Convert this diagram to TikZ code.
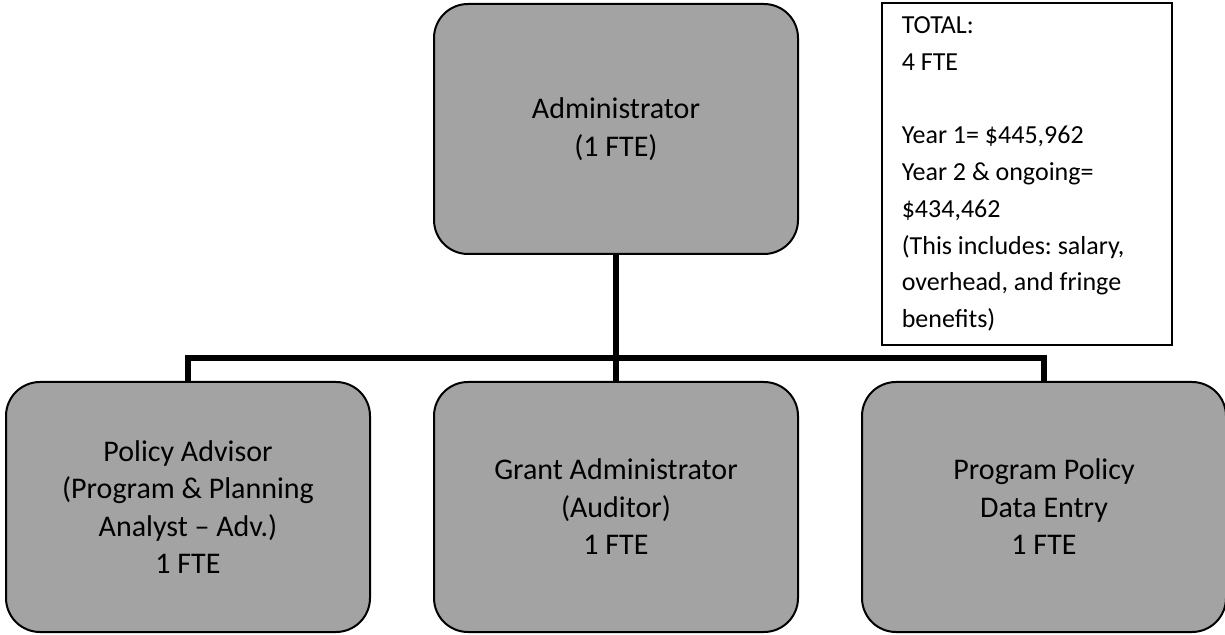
\documentclass[tikz,border=0pt]{standalone}
\usepackage{fontspec}
\setmainfont{Carlito}
\frenchspacing
\usetikzlibrary{positioning}
\tikzset{rolebox/.style={draw, line width=1pt, rounded corners=17pt,
  fill=black!36, minimum width=182pt, minimum height=125pt,
  align=center, inner sep=4pt, font=\fontsize{15}{18.75}\selectfont},
  notebox/.style={draw, line width=0.8pt, align=flush left, anchor=north west,
  text width=125pt, minimum width=145pt, minimum height=171pt,
  inner xsep=10pt, inner ysep=3pt, font=\fontsize{13}{18.4}\selectfont},
  linkline/.style={line width=3pt},
  org/.style={x=0.5pt, y=-0.5pt, node distance=31pt}}

\begin{document}
\begin{tikzpicture}[org]
  \useasboundingbox (0,0) rectangle (1225,635);
  % top of the chart and the three roles below it
  \node[rolebox] (admin) at (616,129) {Administrator\\(1 FTE)};
  \node[rolebox] (grant) at (616,507) {Grant Administrator\\(Auditor)\\1 FTE};
  \node[rolebox, left=of grant] (policy) {Policy Advisor\\(Program \& Planning\\Analyst – Adv.)\\1 FTE};
  \node[rolebox, right=of grant] (entry) {Program Policy\\Data Entry\\1 FTE};
  \node[notebox] (total) at (881,2) {TOTAL:\\4 FTE\\[18.4pt]Year 1= \$445,962\\Year 2 \& ongoing=\\\$434,462\\(This includes: salary,\\overhead, and fringe\\benefits)};
  \coordinate (bus) at (616,358);
  \draw[linkline] (admin.south) -- (grant.north);
  \draw[linkline] (policy.north) |- (bus) -| (entry.north);
\end{tikzpicture}
\end{document}
